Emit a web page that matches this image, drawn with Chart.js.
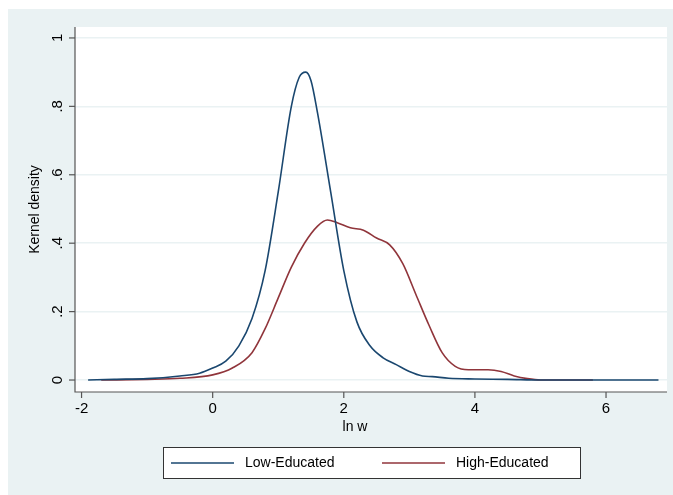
<!DOCTYPE html>
<html>
<head>
<script src="https://cdn.jsdelivr.net/npm/chart.js@4"></script>
<style>body{margin:0;background:#fff}</style>
</head>
<body>
<canvas id="myChart" width="673" height="495"></canvas>
<script>
var xTicks = [-2, 0, 2, 4, 6];
var yTicks = [0, 0.2, 0.4, 0.6, 0.8, 1];
var yTickLabels = ["0", ".2", ".4", ".6", ".8", "1"];

var lowX = [-1.9, -1.5, -1, -0.5, -0.2, 0, 0.2, 0.4, 0.6, 0.8, 1.0, 1.2, 1.32, 1.42, 1.5, 1.6, 1.8, 2.0, 2.2, 2.4, 2.6, 2.8, 3.0, 3.2, 3.35, 3.6, 4, 4.5, 5, 6.8];
var lowY = [0, 0.002, 0.004, 0.012, 0.02, 0.035, 0.055, 0.1, 0.18, 0.32, 0.55, 0.8, 0.885, 0.9, 0.875, 0.78, 0.55, 0.32, 0.17, 0.1, 0.065, 0.045, 0.025, 0.012, 0.01, 0.005, 0.003, 0.002, 0, 0];
var highX = [-1.7, -1, -0.5, 0, 0.3, 0.6, 0.8, 1.0, 1.2, 1.4, 1.6, 1.75, 1.9, 2.1, 2.3, 2.5, 2.7, 2.9, 3.1, 3.3, 3.5, 3.7, 3.9, 4.2, 4.4, 4.6, 4.8, 5, 5.8];
var highY = [0, 0.002, 0.005, 0.015, 0.035, 0.08, 0.15, 0.24, 0.33, 0.4, 0.45, 0.468, 0.46, 0.445, 0.438, 0.415, 0.395, 0.34, 0.25, 0.16, 0.08, 0.04, 0.03, 0.03, 0.025, 0.012, 0.004, 0, 0];

function pts(xs, ys) { return xs.map(function (x, i) { return {x: x, y: ys[i]}; }); }

var FONT = "Liberation Sans, Arial, sans-serif";

var stataFrame = {
  id: "stataFrame",
  beforeDraw: function (chart) {
    var c = chart.ctx, a = chart.chartArea;
    c.save();
    c.fillStyle = "#eaf2f3";
    c.fillRect(8, 9, chart.width - 8, chart.height - 9);
    c.fillStyle = "#fff";
    c.fillRect(a.left, a.top, a.right - a.left, a.bottom - a.top);
    c.restore();
  },
  afterDraw: function (chart) {
    var c = chart.ctx, a = chart.chartArea;
    var xs = chart.scales.x, ys = chart.scales.y;
    c.save();
    c.strokeStyle = "#555"; c.lineWidth = 1.2;
    c.beginPath();
    c.moveTo(a.left, a.top); c.lineTo(a.left, a.bottom); c.lineTo(a.right, a.bottom);
    c.stroke();
    c.fillStyle = "#000";
    c.font = "15px " + FONT;
    c.textAlign = "center"; c.textBaseline = "top";
    xTicks.forEach(function (v) {
      var px = xs.getPixelForValue(v);
      c.beginPath(); c.moveTo(px, a.bottom); c.lineTo(px, a.bottom + 6); c.stroke();
      c.fillText(String(v).replace("-", "-"), px, a.bottom + 9);
    });
    yTicks.forEach(function (v, i) {
      var py = ys.getPixelForValue(v);
      c.beginPath(); c.moveTo(a.left - 6, py); c.lineTo(a.left, py); c.stroke();
      c.save();
      c.translate(a.left - 17, py); c.rotate(-Math.PI / 2);
      c.textBaseline = "middle";
      c.fillText(yTickLabels[i], 0, 0);
      c.restore();
    });
    c.font = "14px " + FONT;
    c.fillText("ln w", (a.left + a.right) / 2 - 16, a.bottom + 28);
    c.save();
    c.translate(35, (a.top + a.bottom) / 2); c.rotate(-Math.PI / 2);
    c.textBaseline = "middle";
    c.fillText("Kernel density", 0, 0);
    c.restore();
    // legend
    c.fillStyle = "#fff"; c.strokeStyle = "#333"; c.lineWidth = 1;
    c.fillRect(163, 447, 417, 31); c.strokeRect(163.5, 447.5, 417, 31);
    var items = chart.data.datasets;
    var lx = [171, 382];
    items.forEach(function (d, i) {
      c.strokeStyle = d.borderColor; c.lineWidth = 1.6;
      c.beginPath(); c.moveTo(lx[i], 463); c.lineTo(lx[i] + 63, 463); c.stroke();
      c.fillStyle = "#000"; c.textAlign = "left"; c.textBaseline = "middle";
      c.fillText(d.label, lx[i] + 74, 463);
    });
    c.restore();
  }
};

new Chart("myChart", {
  type: "line",
  data: {
    datasets: [
      {label: "Low-Educated", data: pts(lowX, lowY), borderColor: "#1a476f", borderWidth: 1.6, pointRadius: 0, tension: 0.4, cubicInterpolationMode: "monotone"},
      {label: "High-Educated", data: pts(highX, highY), borderColor: "#90353b", borderWidth: 1.6, pointRadius: 0, tension: 0.4, cubicInterpolationMode: "monotone"}
    ]
  },
  options: {
    responsive: false,
    animation: false,
    layout: {padding: {left: 75, right: 6, top: 27, bottom: 103}},
    plugins: {legend: {display: false}, tooltip: {enabled: false}},
    scales: {
      x: {type: "linear", min: -2.1, max: 6.93, display: true,
          ticks: {display: false}, grid: {display: false}, border: {display: false},
          afterFit: function (s) { s.height = 0; }},
      y: {min: -0.035, max: 1.032,
          afterBuildTicks: function (s) { s.ticks = yTicks.map(function (v) { return {value: v}; }); },
          ticks: {display: false}, grid: {color: "#eaf2f3", lineWidth: 1.5, drawTicks: false},
          border: {display: false},
          afterFit: function (s) { s.width = 0; }}
    }
  },
  plugins: [stataFrame]
});
</script>
</body>
</html>
